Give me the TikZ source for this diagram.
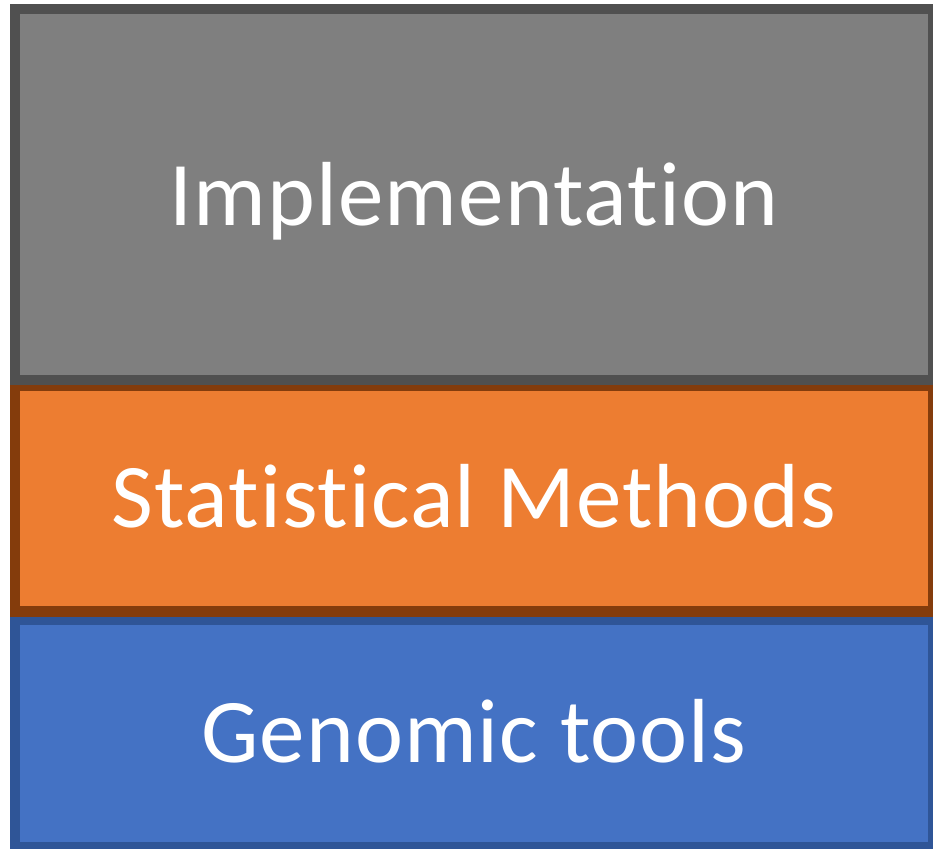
\documentclass[tikz,border=0pt]{standalone}
\usepackage{fontspec}
\setmainfont{Carlito}[Ligatures={NoCommon},LetterSpace=1.2]
\definecolor{implfill}{HTML}{7F7F7F}
\definecolor{impledge}{HTML}{505050}
\definecolor{statfill}{HTML}{ED7D31}
\definecolor{statedge}{HTML}{843C0C}
\definecolor{genofill}{HTML}{4472C4}
\definecolor{genoedge}{HTML}{2F5597}
\begin{document}
\begin{tikzpicture}[x=1pt,y=-1pt,
  layer/.style={line width=10.5pt},
  layertext/.style={text=white,anchor=base,inner sep=0pt,
    font=\fontsize{91}{100}\selectfont}]
\useasboundingbox (0,0) rectangle (933,848);
% bottom layer first, each upper layer overlaps the one below
\draw[layer,fill=genofill,draw=genoedge] (15,620) rectangle (933,847);
\draw[layer,fill=statfill,draw=statedge] (15,386) rectangle (933,611.5);
\draw[layer,fill=implfill,draw=impledge] (15,9) rectangle (933,380);
\node[layertext] (impl) at (474,225) {Implementation};
\node[layertext] (stat) at (474,527) {Statistical Methods};
\node[layertext] (geno) at (474,762) {Genomic tools};
\end{tikzpicture}
\end{document}
